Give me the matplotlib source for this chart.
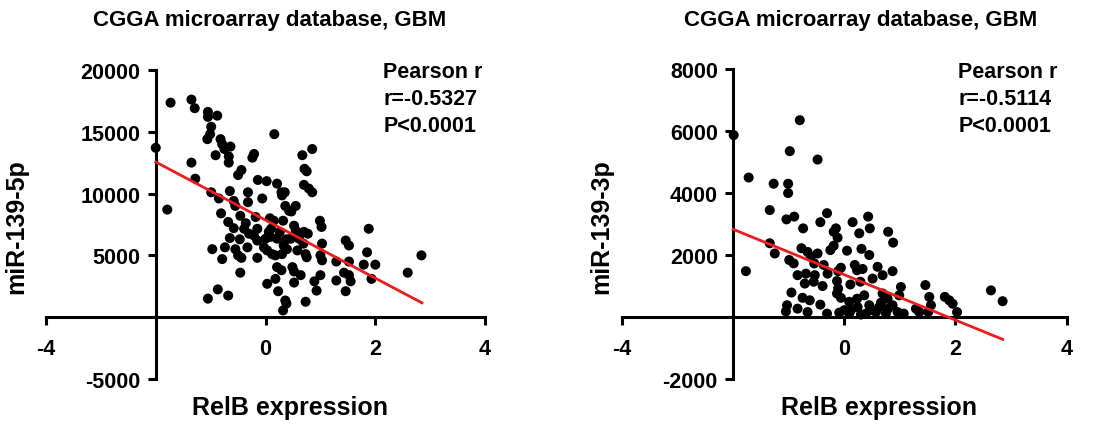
import matplotlib

matplotlib.use("Agg")
import matplotlib.pyplot as plt

plt.rcParams["font.family"] = ["Liberation Sans", "DejaVu Sans"]
plt.rcParams["font.weight"] = "bold"
plt.rcParams["axes.unicode_minus"] = False

title = "CGGA microarray database, GBM"
xlabel = "RelB expression"

# left panel: RelB vs miR-139-5p
relb_5p = [
    -2.00, -1.73, -1.79, -1.35, -1.29, -1.35, -1.28, -1.05, -1.05, -0.88,
    -0.99, -1.06, -1.01, -0.82, -0.79, -0.75, -0.64, -0.91, -0.67, -0.67,
    -0.21, -0.24, -0.44, -0.50, -0.99, -0.85, -0.65, -0.81, -0.58, -0.55,
    -0.32, -0.32, -0.14, 0.02, -0.06, 0.16, 0.21, 0.29, 0.30, 0.35,
    0.67, 0.71, 0.75, 0.85, 0.70, 0.85, 0.79, 0.36, 0.43, 0.55,
    0.47, -0.68, -0.46, -0.36, -0.18, 0.08, 0.15, 0.32, -0.58, -0.39,
    -0.15, -0.30, -0.21, 0.10, 0.26, 0.52, 0.55, 0.70, 0.77, 0.99,
    1.02, 1.88, -0.65, -0.47, -0.15, 0.00, 0.09, 0.21, 0.38, 0.61,
    0.69, 1.03, 1.46, 1.52, -0.97, -0.74, -0.55, -0.33, -0.03, 0.03,
    0.12, 0.18, 0.30, 0.39, 0.58, 0.73, 1.00, 1.85, 2.84, -0.79,
    -0.50, -0.44, -0.15, 0.75, 1.03, 1.29, 1.52, 1.79, 2.00, -0.46,
    0.21, 0.29, 0.49, 0.52, 0.64, 1.00, 1.43, 1.52, 2.59, 1.93,
    0.03, 0.18, 0.52, 0.89, 1.29, 1.55, 0.93, 1.46, 0.23, -0.87,
    -1.05, -0.68, 0.73, 0.36, 0.38, 0.32, 0.06, 0.33, 0.46,
]
mir_5p = [
    13700, 17350, 8700, 17600, 16900, 12500, 11200, 16600, 16200, 16300,
    15400, 14400, 14800, 14400, 14000, 13600, 13800, 13100, 13000, 12500,
    13200, 12900, 11900, 11500, 10100, 9600, 10200, 8400, 9400, 9000,
    10100, 9300, 11100, 11000, 9600, 14800, 10800, 10100, 9850, 10100,
    13100, 12000, 11800, 13600, 10700, 10100, 10400, 9000, 8600, 9000,
    8550, 7700, 8200, 7600, 8100, 8000, 7800, 7800, 7200, 7150,
    7150, 6750, 6600, 7150, 6900, 7400, 7000, 6900, 6750, 7800,
    7300, 7150, 6400, 6300, 6200, 6350, 6500, 6350, 6300, 6350,
    5950, 5950, 6200, 5800, 5500, 5650, 5500, 5650, 5650, 5400,
    5100, 5000, 5100, 5500, 5400, 5100, 5000, 5250, 5000, 4700,
    5000, 4800, 4800, 4850, 4600, 4500, 4500, 4250, 4250, 3600,
    4050, 3800, 4050, 3700, 3400, 3400, 3600, 3400, 3600, 3100,
    2700, 3100, 2800, 2900, 2970, 2900, 2150, 2100, 2100, 2250,
    1500, 1750, 1250, 1350, 1100, 550, 6900, 5800, 6350,
]
fit_x_5p = [-2.0, 2.85]
fit_y_5p = [12550, 1160]

# right panel: RelB vs miR-139-3p
relb_3p = [
    -1.99, -1.72, -1.77, -1.34, -1.27, -1.34, -1.25, -1.01, -1.01, -0.98,
    -0.80, -0.48, -1.04, -0.90, -0.74, -0.43, -0.31, -0.15, -0.19, -0.12,
    0.15, 0.43, 0.46, 0.27, 0.79, 0.88, 0.31, 0.45, 0.05, -0.19,
    -0.25, -0.77, -0.66, -0.60, -0.48, -0.99, -0.91, -0.54, -0.37, -0.84,
    -0.69, -0.53, -0.30, -0.11, -0.06, 0.19, 0.23, 0.33, 0.60, 0.87,
    0.69, -0.71, -0.55, -0.39, -0.13, -0.11, 0.11, 0.29, 0.51, 1.02,
    1.46, 2.64, 2.85, -0.95, -0.75, -0.62, -0.43, -0.13, -0.06, 0.09,
    0.36, 0.69, 0.78, 0.99, 1.53, 1.81, 1.89, 1.95, 1.29, 1.56,
    -1.03, -1.05, -0.84, -0.66, -0.31, -0.09, 0.00, 0.12, 0.24, 0.39,
    0.51, 0.63, 0.75, 0.87, 0.96, 1.07, 1.35, 1.51, 2.03, 0.23,
    0.45, 0.66, 0.57, 0.79, 0.09, 0.30,
]
mir_3p = [
    5870, 4500, 1480, 3450, 4300, 2380, 2050, 4300, 4000, 5350,
    6350, 5080, 3150, 3240, 2860, 3060, 3350, 2860, 2750, 2560,
    3060, 3240, 2860, 2700, 2750, 2400, 2200, 2000, 2140, 2300,
    2160, 2220, 2100, 1950, 2050, 1840, 1730, 1730, 1680, 1350,
    1400, 1350, 1400, 1480, 1590, 1680, 1510, 1550, 1620, 1480,
    1350, 1080, 1140, 1000, 1160, 920, 1050, 1140, 1240, 970,
    1030, 860, 510, 790, 620, 540, 400, 760, 620, 490,
    700, 760, 590, 700, 650, 650, 540, 430, 270, 380,
    380, 180, 270, 160, 110, 140, 220, 220, 320, 110,
    220, 320, 110, 380, 160, 110, 160, 160, 160, 590,
    380, 460, 160, 270, 110, 80,
]
fit_x_3p = [-2.0, 2.85]
fit_y_3p = [2830, -720]

panels = [
    {
        "x": relb_5p, "y": mir_5p, "fx": fit_x_5p, "fy": fit_y_5p,
        "ylabel": "miR-139-5p", "r": "r=-0.5327",
        "ylim": (-5000, 20000), "yticks": [-5000, 5000, 10000, 15000, 20000],
        "rect": [0.042, 0.110, 0.401, 0.724],
        "title_x": 0.246, "ylabel_x": 0.015, "xlabel_x": 0.265, "stat_x": 0.350,
    },
    {
        "x": relb_3p, "y": mir_3p, "fx": fit_x_3p, "fy": fit_y_3p,
        "ylabel": "miR-139-3p", "r": "r=-0.5114",
        "ylim": (-2000, 8000), "yticks": [-2000, 2000, 4000, 6000, 8000],
        "rect": [0.568, 0.110, 0.406, 0.726],
        "title_x": 0.786, "ylabel_x": 0.549, "xlabel_x": 0.803, "stat_x": 0.875,
    },
]

fig = plt.figure(figsize=(10.95, 4.27), dpi=100)

for p in panels:
    ax = fig.add_axes(p["rect"])
    ax.scatter(p["x"], p["y"], s=52, color="black", edgecolors="none", zorder=3, clip_on=False)
    ax.plot(p["fx"], p["fy"], color="#ee1c1c", linewidth=2, zorder=4, clip_on=False)

    ax.set_xlim(-4, 4)
    ax.set_ylim(*p["ylim"])
    ax.spines["left"].set_position(("data", -2))
    ax.spines["bottom"].set_position(("data", 0))
    ax.spines["top"].set_visible(False)
    ax.spines["right"].set_visible(False)
    for s in ("left", "bottom"):
        ax.spines[s].set_linewidth(2.2)

    ax.set_xticks([-4, 0, 2, 4])
    ax.set_yticks(p["yticks"])
    ax.tick_params(width=2.2, length=6, labelsize=15.5, pad=5)
    ax.tick_params(axis="x", pad=9)
    for lab in ax.get_xticklabels() + ax.get_yticklabels():
        lab.set_fontweight("bold")
    ax.patch.set_visible(False)

    fig.text(p["title_x"], 0.952, title, ha="center", va="center", fontsize=16, fontweight="bold")
    fig.text(p["ylabel_x"], 0.47, p["ylabel"], rotation=90, ha="center", va="center",
             fontsize=18, fontweight="bold")
    fig.text(p["xlabel_x"], 0.045, xlabel, ha="center", va="center", fontsize=18, fontweight="bold")
    fig.text(p["stat_x"], 0.766, "Pearson r\n" + p["r"] + "\nP<0.0001", ha="left", va="center",
             fontsize=15.5, fontweight="bold", linespacing=1.38)

fig.savefig("out.png", dpi=100)
plt.close(fig)
